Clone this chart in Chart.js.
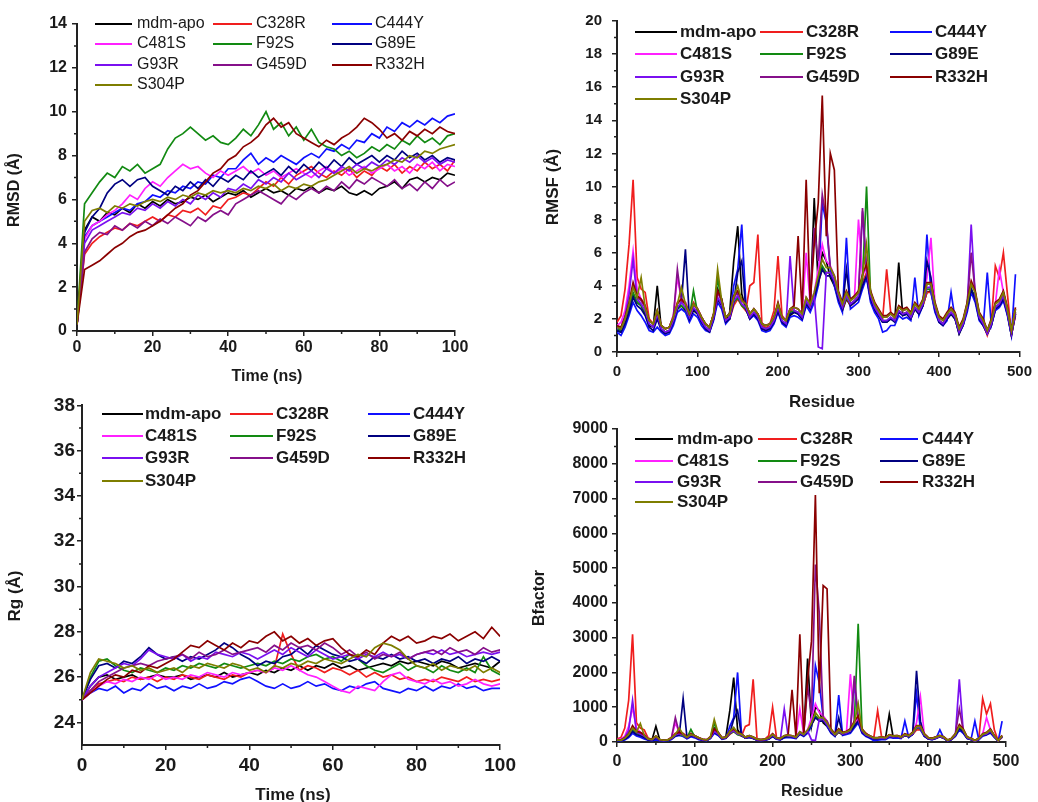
<!DOCTYPE html>
<html>
<head>
<meta charset="utf-8">
<title>MD analysis panels</title>
<script src="https://cdn.jsdelivr.net/npm/chart.js@4.4.1/dist/chart.umd.min.js"></script>
<style>
  body { margin: 0; background: #fff; }
  #page { position: relative; width: 1038px; height: 802px; overflow: hidden; background: #fff; }
  #page canvas { position: absolute; }
</style>
</head>
<body>
<div id="page">
  <canvas id="rmsdChart" width="520" height="392" style="left:0;top:0"></canvas>
  <canvas id="rmsfChart" width="518" height="412" style="left:520px;top:0"></canvas>
  <canvas id="rgChart" width="520" height="410" style="left:0;top:392px"></canvas>
  <canvas id="bfacChart" width="518" height="390" style="left:520px;top:412px"></canvas>
</div>
<script>
// systems, in legend order (Origin default colours)
const seriesNames = ['mdm-apo', 'C328R', 'C444Y', 'C481S', 'F92S', 'G89E', 'G93R', 'G459D', 'R332H', 'S304P'];
const seriesColors = ['#000000', '#f01e1e', '#1010ff', '#ff20ff', '#128a12', '#000080', '#7a10f0', '#86108a', '#8a0000', '#7e7e00'];

// x values
const timeNs = [0, 2, 4, 6, 8, 10, 12, 14, 16, 18, 20, 22, 24, 26, 28, 30, 32, 34, 36, 38, 40,
  42, 44, 46, 48, 50, 52, 54, 56, 58, 60, 62, 64, 66, 68, 70, 72, 74, 76, 78, 80,
  82, 84, 86, 88, 90, 92, 94, 96, 98, 100];
const residues = [0, 5, 10, 15, 20, 25, 30, 35, 40, 45, 50, 55, 60, 65, 70, 75, 80, 85, 90, 95,
  100, 105, 110, 115, 120, 125, 130, 135, 140, 145, 150, 155, 160, 165, 170, 175, 180, 185, 190, 195,
  200, 205, 210, 215, 220, 225, 230, 235, 240, 245, 250, 255, 260, 265, 270, 275, 280, 285, 290, 295,
  300, 305, 310, 315, 320, 325, 330, 335, 340, 345, 350, 355, 360, 365, 370, 375, 380, 385, 390, 395,
  400, 405, 410, 415, 420, 425, 430, 435, 440, 445, 450, 455, 460, 465, 470, 475, 480, 485, 490, 495];

// tick labels
const timeTicks = [0, 20, 40, 60, 80, 100];
const residueTicks = [0, 100, 200, 300, 400, 500];
const rmsdTicks = [0, 2, 4, 6, 8, 10, 12, 14];
const rmsfTicks = [0, 2, 4, 6, 8, 10, 12, 14, 16, 18, 20];
const rgTicks = [24, 26, 28, 30, 32, 34, 36, 38];
const bfacTicks = [0, 1000, 2000, 3000, 4000, 5000, 6000, 7000, 8000, 9000];

// RMSD (A) vs time
const rmsdMdmApo = [0.3, 4.6, 5.2, 5.0, 5.4, 5.3, 5.6, 5.4, 5.8, 5.6, 5.9,
  5.7, 6.0, 5.8, 5.9, 6.1, 6.0, 6.2, 5.9, 6.1, 6.3,
  6.2, 6.4, 6.1, 6.3, 6.5, 6.3, 6.4, 6.2, 6.5, 6.4,
  6.6, 6.3, 6.5, 6.4, 6.6, 6.3, 6.2, 6.4, 6.2, 6.5,
  6.6, 6.8, 6.5, 6.9, 7.0, 6.8, 7.0, 6.9, 7.2, 7.1];
const rmsdC328R = [0.3, 3.5, 4.0, 4.3, 4.5, 4.7, 4.6, 4.9, 4.8, 5.0, 5.2,
  5.0, 5.3, 5.2, 5.5, 5.4, 5.6, 5.3, 5.7, 5.6, 6.0,
  6.1, 6.3, 6.2, 6.5, 6.8, 6.6, 7.0, 6.7, 7.1, 7.3,
  7.5, 7.2, 7.0, 7.3, 7.1, 7.4, 7.0, 7.3, 7.1, 7.5,
  7.3, 7.6, 7.2, 7.5, 7.3, 7.7, 7.4, 7.6, 7.3, 7.8];
const rmsdC444Y = [0.3, 4.3, 4.8, 5.0, 5.2, 5.4, 5.6, 5.5, 5.8, 5.9, 6.2,
  6.1, 6.4, 6.3, 6.6, 6.5, 6.8, 6.7, 7.1, 7.0, 7.4,
  7.4, 7.8, 8.1, 7.6, 7.9, 7.7, 8.0, 7.8, 7.6, 7.9,
  8.1, 7.9, 8.3, 8.2, 8.5, 8.3, 8.7, 8.6, 9.0, 8.8,
  9.3, 9.1, 9.5, 9.3, 9.6, 9.4, 9.7, 9.5, 9.8, 9.9];
const rmsdC481S = [0.3, 4.2, 4.8, 5.0, 5.3, 5.5, 5.8, 6.2, 6.0, 6.5, 6.8,
  6.6, 7.0, 7.3, 7.6, 7.4, 7.5, 7.2, 7.0, 7.3, 7.1,
  7.3, 7.5, 7.2, 7.4, 7.1, 7.3, 7.0, 7.2, 7.4, 7.2,
  7.0, 7.3, 7.5, 7.2, 7.4, 7.1, 7.3, 7.5, 7.2, 7.4,
  7.6, 7.3, 7.5, 7.2, 7.6, 7.4, 7.7, 7.3, 7.6, 7.5];
const rmsdF92S = [0.3, 5.8, 6.3, 6.8, 7.2, 7.0, 7.5, 7.3, 7.6, 7.2, 7.4,
  7.6, 8.3, 8.8, 9.0, 9.3, 9.0, 8.7, 8.9, 8.6, 8.5,
  8.8, 9.2, 8.9, 9.4, 10.0, 9.2, 9.5, 8.9, 9.3, 8.7,
  9.2, 8.6, 8.4, 8.3, 8.0, 8.2, 7.9, 8.1, 8.4, 8.2,
  8.5, 8.3, 8.7, 8.5, 8.9, 8.6, 8.8, 8.5, 8.9, 9.0];
const rmsdG89E = [0.3, 4.5, 5.2, 5.6, 6.3, 6.7, 6.9, 6.6, 6.9, 7.0, 6.6,
  6.4, 6.2, 6.6, 6.4, 6.8, 6.5, 6.9, 6.6, 7.0, 6.8,
  7.1, 6.9, 7.3, 7.0, 7.2, 7.4, 7.1, 7.5, 7.2, 7.6,
  7.3, 7.7, 7.4, 7.8, 7.5, 7.9, 7.6, 7.8, 8.0, 7.7,
  8.0, 7.8, 8.2, 7.9, 8.1, 7.8, 8.0, 7.7, 7.9, 7.8];
const rmsdG93R = [0.3, 4.0, 4.6, 4.8, 5.0, 5.2, 5.4, 5.3, 5.6, 5.5, 5.8,
  5.6, 5.9, 5.7, 6.0, 5.8, 6.2, 6.0, 6.3, 6.1, 6.5,
  6.4, 6.7, 6.5, 6.9, 6.7, 7.0, 6.8, 7.2, 6.9, 7.1,
  7.3, 7.0, 7.4, 7.2, 7.5, 7.3, 7.6, 7.4, 7.7, 7.5,
  7.8, 7.6, 7.9, 7.7, 8.0, 7.7, 7.9, 7.6, 7.8, 7.7];
const rmsdG459D = [0.3, 3.6, 4.2, 4.5, 4.4, 4.8, 4.6, 4.9, 4.7, 5.0, 4.8,
  5.1, 4.9, 5.2, 5.0, 4.8, 5.2, 5.0, 5.3, 5.5, 5.3,
  5.8, 6.0, 6.2, 6.4, 6.2, 6.0, 5.8, 6.2, 6.0, 6.3,
  6.5, 6.3, 6.6, 6.4, 6.8, 6.5, 6.9, 6.7, 7.0, 6.8,
  6.6, 6.9, 6.5, 6.7, 6.4, 6.8, 6.5, 6.9, 6.6, 6.8];
const rmsdR332H = [0.3, 2.8, 3.0, 3.2, 3.5, 3.8, 4.0, 4.3, 4.5, 4.6, 4.8,
  5.0, 5.3, 5.6, 5.8, 6.2, 6.4, 6.8, 7.2, 7.4, 7.8,
  8.0, 8.4, 8.6, 8.9, 9.4, 9.7, 9.3, 9.5, 9.0, 8.8,
  8.6, 8.4, 8.7, 8.5, 8.8, 9.0, 9.3, 9.7, 9.5, 9.2,
  8.8, 9.0, 8.7, 9.1, 8.9, 9.2, 9.0, 9.3, 9.1, 9.0];
const rmsdS304P = [0.3, 5.0, 5.5, 5.6, 5.4, 5.7, 5.6, 5.8, 5.7, 5.9, 6.0,
  5.9, 6.1, 6.0, 6.2, 6.1, 6.3, 6.2, 6.4, 6.3, 6.4,
  6.3, 6.5, 6.4, 6.6, 6.5, 6.7, 6.4, 6.6, 6.5, 6.7,
  6.6, 6.8, 6.9, 7.1, 7.3, 7.5, 7.2, 7.4, 7.3, 7.5,
  7.6, 7.8, 7.7, 8.0, 7.9, 8.2, 8.1, 8.3, 8.4, 8.5];

// RMSF (A) per residue
const rmsfMdmApo = [1.3, 1.2, 1.8, 2.5, 3.5, 3.0, 2.8, 2.3, 1.6, 1.5, 4.0, 1.4, 1.2, 1.3, 1.9, 2.6, 2.8, 2.5, 2.0, 2.5,
  2.3, 1.8, 1.5, 1.3, 2.0, 3.8, 3.2, 1.9, 2.4, 5.5, 7.6, 3.5, 2.6, 2.0, 2.3, 2.0, 1.5, 1.3, 1.5, 1.8,
  2.5, 1.8, 1.6, 2.2, 2.4, 2.3, 2.0, 3.0, 2.6, 9.3, 4.0, 6.0, 5.5, 4.5, 4.0, 3.2, 2.5, 3.2, 2.8, 3.0,
  3.3, 4.0, 4.6, 3.2, 2.5, 2.2, 1.8, 1.8, 2.0, 1.9, 5.4, 2.2, 2.3, 2.0, 2.6, 2.3, 2.8, 3.6, 3.7, 2.5,
  1.9, 1.7, 2.0, 2.3, 2.0, 1.1, 1.7, 2.6, 3.8, 3.2, 2.0, 1.6, 1.1, 1.6, 2.6, 2.8, 3.3, 2.3, 1.0, 2.3];
const rmsfC328R = [1.8, 2.2, 3.8, 6.5, 10.4, 4.5, 3.8, 3.6, 2.0, 1.7, 2.2, 1.6, 1.4, 1.5, 2.2, 3.0, 3.2, 3.0, 2.4, 3.0,
  2.6, 2.1, 1.7, 1.5, 2.3, 3.2, 2.8, 2.0, 2.0, 2.8, 3.2, 2.8, 2.5, 4.0, 4.2, 7.1, 1.7, 1.4, 1.7, 2.5,
  5.8, 2.2, 1.9, 2.4, 2.7, 2.6, 2.3, 3.0, 2.7, 3.3, 4.2, 5.0, 4.8, 4.8, 4.3, 3.4, 2.6, 3.3, 2.8, 3.0,
  3.3, 4.2, 4.8, 3.5, 3.0, 2.5, 2.0, 5.0, 2.4, 2.0, 2.4, 2.3, 2.4, 2.1, 2.6, 2.4, 2.8, 3.6, 3.6, 2.6,
  1.9, 1.7, 2.1, 2.4, 2.1, 1.2, 1.7, 2.6, 3.6, 3.2, 2.1, 1.7, 1.0, 1.7, 5.2, 4.5, 6.0, 3.5, 1.1, 2.2];
const rmsfC444Y = [1.2, 1.0, 1.5, 2.2, 3.0, 2.5, 2.2, 1.8, 1.3, 1.2, 1.5, 1.2, 1.0, 1.1, 1.6, 2.4, 2.6, 2.4, 1.8, 2.3,
  2.1, 1.6, 1.3, 1.2, 1.9, 3.0, 2.6, 1.7, 2.0, 4.0, 5.0, 7.7, 3.0, 2.0, 2.2, 1.9, 1.3, 1.2, 1.3, 1.7,
  2.4, 1.7, 1.5, 2.1, 2.2, 2.1, 1.9, 2.8, 2.4, 3.0, 4.0, 9.0, 7.8, 5.0, 4.0, 3.0, 2.4, 6.9, 2.6, 2.8,
  3.0, 3.8, 4.5, 3.0, 2.4, 2.0, 1.2, 1.3, 1.6, 1.6, 2.2, 2.0, 2.1, 1.9, 4.5, 2.2, 2.8, 7.1, 3.6, 2.4,
  1.8, 1.6, 1.9, 3.6, 2.0, 1.2, 1.6, 2.4, 3.6, 3.0, 1.9, 1.6, 4.8, 1.6, 2.5, 2.7, 3.1, 2.2, 1.0, 4.7];
const rmsfC481S = [1.6, 1.8, 2.5, 4.0, 6.1, 3.8, 3.2, 2.8, 1.9, 1.7, 2.2, 1.6, 1.4, 1.5, 2.2, 4.5, 3.2, 3.0, 2.3, 2.9,
  2.6, 2.1, 1.7, 1.5, 2.3, 3.6, 3.1, 2.1, 2.3, 3.3, 3.6, 3.1, 2.9, 2.3, 2.6, 2.3, 1.7, 1.6, 1.7, 2.1,
  2.9, 2.1, 1.9, 2.6, 2.7, 2.6, 2.3, 6.0, 2.9, 3.6, 5.0, 6.5, 5.5, 5.2, 4.6, 3.6, 2.9, 3.6, 3.1, 3.3,
  8.0, 4.6, 5.1, 3.6, 2.9, 2.5, 2.1, 2.1, 2.3, 2.1, 2.7, 2.5, 2.6, 2.3, 2.9, 2.6, 3.1, 4.5, 6.9, 2.9,
  2.1, 1.9, 2.3, 2.6, 2.3, 1.4, 1.9, 2.9, 4.1, 3.6, 2.3, 1.9, 1.3, 1.9, 2.9, 5.0, 3.6, 2.6, 1.3, 2.6];
const rmsfF92S = [1.4, 1.3, 1.9, 2.6, 3.6, 3.0, 2.8, 2.4, 1.7, 1.5, 2.3, 1.4, 1.2, 1.3, 1.9, 2.6, 2.8, 2.6, 2.1, 3.7,
  2.4, 1.9, 1.5, 1.3, 2.1, 4.5, 2.9, 1.9, 2.1, 3.0, 3.3, 2.8, 2.6, 2.1, 2.4, 2.1, 1.5, 1.4, 1.5, 1.9,
  2.6, 1.9, 1.7, 2.4, 2.5, 2.4, 2.1, 3.0, 2.7, 3.4, 4.3, 5.2, 4.8, 4.8, 4.3, 3.3, 2.7, 3.3, 2.9, 3.1,
  3.4, 4.4, 10.0, 3.4, 2.7, 2.3, 1.9, 1.9, 2.1, 1.9, 2.5, 2.3, 2.4, 2.1, 2.7, 2.4, 2.9, 3.8, 3.8, 2.7,
  1.9, 1.7, 2.1, 2.4, 2.1, 1.2, 1.7, 2.7, 3.8, 3.3, 2.1, 1.7, 1.1, 1.7, 2.7, 2.9, 3.3, 2.4, 1.1, 2.4];
const rmsfG89E = [1.3, 1.2, 1.7, 2.4, 3.3, 2.8, 2.6, 2.2, 1.5, 1.3, 2.0, 1.3, 1.1, 1.2, 1.8, 2.6, 3.0, 6.2, 2.0, 2.6,
  2.3, 1.8, 1.4, 1.2, 2.0, 3.2, 2.8, 1.8, 2.0, 3.0, 4.8, 5.5, 2.6, 2.0, 2.3, 2.0, 1.4, 1.3, 1.4, 1.8,
  2.5, 1.8, 1.6, 2.3, 2.4, 2.3, 2.0, 2.9, 2.6, 3.3, 4.2, 5.0, 4.6, 4.6, 4.2, 3.2, 2.6, 5.0, 2.8, 3.0,
  3.2, 4.0, 4.6, 3.2, 2.6, 2.2, 1.8, 1.8, 2.0, 1.8, 2.4, 2.2, 2.3, 2.0, 2.6, 2.3, 2.8, 5.5, 4.5, 2.6,
  1.8, 1.6, 2.0, 2.3, 2.0, 1.1, 1.6, 2.6, 3.8, 3.2, 2.0, 1.6, 1.1, 1.6, 2.6, 2.8, 3.2, 2.3, 1.0, 2.3];
const rmsfG93R = [1.4, 1.5, 2.2, 3.5, 5.6, 3.2, 2.9, 2.5, 1.7, 1.5, 2.3, 1.4, 1.2, 1.3, 1.9, 2.7, 3.0, 2.7, 2.1, 2.7,
  2.4, 1.9, 1.5, 1.3, 2.1, 3.3, 2.9, 1.9, 2.1, 3.1, 3.4, 2.9, 2.7, 2.1, 2.4, 2.1, 1.5, 1.4, 1.5, 1.9,
  2.7, 1.9, 1.7, 5.8, 2.5, 2.4, 2.1, 3.1, 2.7, 3.4, 0.3, 0.2, 4.8, 4.8, 4.3, 3.4, 2.7, 3.4, 2.9, 3.1,
  3.4, 8.5, 4.9, 3.4, 2.7, 2.3, 1.9, 1.9, 2.1, 1.9, 2.5, 2.3, 2.4, 2.1, 2.7, 2.4, 2.9, 3.9, 3.9, 2.7,
  1.9, 1.7, 2.1, 2.4, 2.1, 1.2, 1.7, 2.7, 7.7, 3.4, 2.1, 1.7, 1.1, 1.7, 2.7, 2.9, 3.4, 2.4, 1.1, 2.4];
const rmsfG459D = [1.5, 1.4, 2.0, 2.9, 4.0, 3.3, 3.1, 2.7, 1.9, 1.7, 2.5, 1.6, 1.4, 1.5, 2.1, 5.0, 3.1, 2.9, 2.3, 2.9,
  2.6, 2.1, 1.7, 1.5, 2.3, 3.6, 3.1, 2.1, 2.3, 3.3, 3.6, 3.1, 2.9, 2.3, 2.6, 2.3, 1.7, 1.6, 1.7, 2.1,
  2.9, 2.1, 1.9, 2.6, 2.7, 2.6, 2.3, 3.3, 2.9, 7.5, 5.5, 9.5, 8.0, 5.1, 4.6, 3.6, 2.9, 3.6, 3.1, 3.3,
  3.6, 8.7, 5.1, 3.6, 2.9, 2.5, 2.1, 2.1, 2.3, 2.1, 2.7, 2.5, 2.6, 2.3, 2.9, 2.6, 3.1, 4.1, 4.1, 2.9,
  2.1, 1.9, 2.3, 2.6, 2.3, 1.4, 1.9, 2.9, 6.0, 3.6, 2.3, 1.9, 1.3, 1.9, 2.9, 3.1, 3.6, 2.6, 1.3, 2.6];
const rmsfR332H = [1.6, 1.5, 2.1, 3.0, 4.2, 3.4, 3.2, 2.8, 1.9, 1.7, 2.5, 1.6, 1.4, 1.5, 2.1, 2.9, 3.2, 2.9, 2.3, 2.9,
  2.6, 2.1, 1.7, 1.5, 2.3, 3.7, 3.2, 2.1, 2.3, 3.4, 3.7, 3.2, 2.9, 2.3, 2.6, 2.3, 1.7, 1.6, 1.7, 2.1,
  3.0, 2.1, 1.9, 2.6, 2.8, 7.0, 2.4, 10.4, 3.0, 6.5, 9.0, 15.5, 7.0, 12.0, 11.0, 3.7, 3.0, 3.7, 3.2, 3.4,
  3.7, 4.7, 5.3, 3.7, 3.0, 2.6, 2.2, 2.2, 2.4, 2.2, 2.8, 2.6, 2.7, 2.4, 3.0, 2.7, 3.2, 4.2, 4.2, 3.0,
  2.2, 2.0, 2.4, 2.7, 2.4, 1.5, 2.0, 3.0, 4.3, 3.7, 2.4, 2.0, 1.3, 2.0, 3.0, 3.2, 3.7, 2.7, 1.3, 2.7];
const rmsfS304P = [1.5, 1.4, 2.0, 2.9, 3.9, 3.3, 4.5, 2.7, 1.9, 1.7, 2.5, 1.6, 1.4, 1.5, 2.1, 2.9, 3.9, 2.9, 2.3, 2.9,
  2.6, 2.1, 1.7, 1.5, 2.3, 5.0, 3.1, 2.1, 2.3, 3.3, 4.0, 3.1, 2.9, 2.3, 2.6, 2.3, 1.7, 1.6, 1.7, 2.1,
  2.9, 2.1, 1.9, 2.6, 2.7, 2.6, 2.3, 3.3, 2.9, 3.6, 4.6, 5.6, 5.1, 5.1, 4.6, 3.6, 2.9, 3.6, 3.1, 3.3,
  3.6, 4.6, 6.5, 3.6, 2.9, 2.5, 2.1, 2.1, 2.3, 2.1, 2.7, 2.5, 2.6, 2.3, 2.9, 2.6, 3.1, 4.1, 4.1, 2.9,
  2.1, 1.9, 2.3, 2.6, 2.3, 1.4, 1.9, 2.9, 4.1, 3.6, 2.3, 1.9, 1.3, 1.9, 2.9, 3.1, 3.6, 2.6, 1.3, 2.6];

// Rg (A) vs time
const rgMdmApo = [25.0, 25.6, 26.0, 26.1, 25.9, 26.0, 26.1, 25.9, 26.0, 26.1, 26.0,
  26.0, 26.1, 25.9, 26.0, 26.1, 26.0, 26.2, 26.0, 26.1, 26.2,
  26.1, 26.3, 26.2, 26.4, 26.3, 26.5, 26.3, 26.5, 26.4, 26.6,
  26.4, 26.5, 26.3, 26.4, 26.5, 26.6, 26.5, 26.7, 26.6, 26.7,
  26.6, 26.5, 26.7, 26.6, 26.4, 26.5, 26.6, 26.5, 26.4, 26.7];
const rgC328R = [25.0, 25.4, 25.7, 25.8, 25.9, 25.8, 26.0, 25.9, 26.0, 25.8, 26.0,
  25.9, 26.1, 26.0, 25.9, 26.1, 26.0, 25.9, 26.1, 26.0, 26.2,
  26.3, 26.2, 26.4, 27.9, 27.0, 26.3, 26.5, 26.4, 26.2, 26.4,
  26.3, 26.1, 26.3, 26.0, 26.2, 26.0, 26.1, 25.9, 26.0, 25.8,
  25.9, 25.8, 26.0, 25.9, 25.8, 26.0, 25.8, 25.9, 25.8, 25.9];
const rgC444Y = [25.0, 25.3, 25.5, 25.4, 25.6, 25.3, 25.5, 25.4, 25.7, 25.5, 25.6,
  25.4, 25.6, 25.5, 25.7, 25.5, 25.6, 25.8, 25.7, 25.9, 26.0,
  25.8, 25.6, 25.5, 25.7, 25.5, 25.6, 25.8, 25.6, 25.7, 25.5,
  25.4, 25.6, 25.5, 25.7, 25.8, 25.5, 25.4, 25.3, 25.5, 25.4,
  25.6, 25.4, 25.6, 25.5, 25.7, 25.5, 25.6, 25.4, 25.5, 25.5];
const rgC481S = [25.0, 25.3, 25.6, 25.8, 25.7, 25.9, 25.8, 26.0, 25.9, 26.1, 25.9,
  26.0, 25.9, 26.1, 26.0, 26.2, 26.1, 26.0, 26.2, 26.1, 26.2,
  26.3, 26.2, 26.4, 26.3, 26.5, 26.3, 26.1, 26.0, 25.8, 25.6,
  25.4, 25.3, 25.6, 25.5, 25.4, 25.8, 26.1, 26.2, 25.9, 25.8,
  25.7, 25.9, 25.7, 25.8, 25.6, 25.7, 25.9, 25.7, 25.6, 25.7];
const rgF92S = [25.0, 26.0, 26.7, 26.8, 26.5, 26.3, 26.2, 26.4, 26.3, 26.2, 26.4,
  26.3, 26.5, 26.4, 26.6, 26.5, 26.4, 26.6, 26.5, 26.4, 26.5,
  26.6, 26.5, 26.7, 26.6, 26.8, 26.7, 26.9, 27.0, 26.8, 26.9,
  26.7, 27.0, 26.8, 26.5, 26.3, 26.2, 26.4, 26.6, 26.3, 26.5,
  26.4, 26.2, 26.5, 26.3, 26.2, 26.4, 26.2, 26.9, 26.3, 26.1];
const rgG89E = [25.0, 25.9, 26.5, 26.6, 26.4, 26.7, 26.6, 26.9, 27.3, 27.0, 26.8,
  26.9, 26.7, 26.9, 26.8, 27.0, 27.2, 27.5, 27.3, 27.0, 26.8,
  26.5, 26.7, 26.6, 26.9, 27.0, 27.3, 27.0, 27.4, 27.2, 27.0,
  26.9, 26.7, 26.8, 26.6, 26.9, 26.8, 27.0, 26.8, 26.9, 26.7,
  26.8, 26.6, 26.8, 26.7, 26.9, 26.6, 26.8, 26.7, 26.9, 26.7];
const rgG93R = [25.0, 25.6, 26.0, 26.2, 26.4, 26.6, 26.5, 26.8, 27.2, 27.0, 26.9,
  26.8, 27.0, 26.7, 26.9, 26.8, 27.1, 27.0, 26.9, 27.1, 27.0,
  26.8, 27.0, 27.2, 27.0, 27.3, 27.1, 26.9, 27.2, 27.0, 26.8,
  26.9, 27.0, 26.8, 27.0, 26.9, 27.1, 26.9, 27.0, 26.8, 27.0,
  27.1, 27.0, 27.2, 27.0, 27.1, 26.9, 27.0, 27.1, 27.0, 27.1];
const rgG459D = [25.0, 25.4, 25.8, 26.0, 26.2, 26.4, 26.5, 26.6, 26.5, 26.7, 26.8,
  26.9, 27.0, 26.8, 27.1, 26.9, 27.0, 27.2, 27.0, 27.1, 27.2,
  27.3, 27.1, 27.4, 27.2, 27.5, 27.3, 27.4, 27.2, 27.5, 27.3,
  27.0, 27.2, 26.9, 27.1, 26.8, 27.0, 26.9, 27.1, 26.8, 27.0,
  27.1, 27.2, 27.0, 27.3, 27.1, 27.2, 27.0, 27.3, 27.1, 27.2];
const rgR332H = [25.0, 25.3, 25.6, 25.9, 26.1, 26.0, 26.3, 26.2, 26.5, 26.4, 26.6,
  26.8, 27.1, 27.4, 27.3, 27.6, 27.4, 27.2, 27.5, 27.3, 27.6,
  27.5, 27.8, 28.0, 27.6, 27.8, 27.5, 27.7, 27.4, 27.6, 27.7,
  27.3, 27.0, 26.9, 27.2, 27.0, 27.5, 27.8, 27.6, 27.8, 27.5,
  27.6, 27.8, 27.7, 27.9, 27.6, 27.8, 28.0, 27.7, 28.2, 27.8];
const rgS304P = [25.0, 26.2, 26.8, 26.7, 26.6, 26.4, 26.5, 26.3, 26.4, 26.2, 26.3,
  26.4, 26.2, 26.5, 26.4, 26.6, 26.5, 26.4, 26.6, 26.5, 26.3,
  26.4, 26.2, 26.5, 26.4, 26.6, 26.5, 26.7, 26.6, 26.8, 26.7,
  26.6, 26.8, 27.0, 26.9, 27.3, 27.5, 27.4, 27.2, 26.8, 26.5,
  26.4, 26.6, 26.3, 26.5, 26.4, 26.3, 26.5, 26.2, 26.4, 26.2];

// B-factor per residue
const bfacMdmApo = [60, 50, 90, 180, 350, 260, 220, 150, 70, 60, 450, 60, 40, 50, 100, 190, 220, 180, 110, 180,
  150, 90, 60, 45, 110, 400, 280, 100, 160, 900, 1850, 350, 190, 110, 140, 100, 60, 50, 60, 90,
  170, 90, 70, 130, 160, 150, 110, 250, 190, 2400, 450, 1000, 900, 550, 450, 280, 170, 280, 210, 250,
  300, 450, 600, 280, 180, 130, 90, 90, 110, 100, 800, 130, 150, 110, 190, 150, 220, 380, 400, 170,
  100, 80, 110, 150, 110, 40, 80, 190, 400, 280, 110, 70, 40, 70, 190, 220, 300, 150, 30, 150];
const bfacC328R = [90, 130, 400, 1200, 3100, 550, 400, 350, 110, 80, 130, 70, 50, 60, 130, 250, 280, 250, 160, 250,
  180, 120, 80, 60, 150, 300, 220, 110, 110, 220, 300, 220, 170, 450, 500, 1800, 80, 50, 80, 180,
  1000, 130, 100, 160, 200, 180, 140, 250, 200, 300, 500, 700, 650, 650, 500, 320, 190, 300, 220, 250,
  300, 500, 650, 340, 250, 170, 110, 900, 160, 110, 160, 150, 160, 120, 190, 160, 220, 350, 350, 190,
  100, 80, 120, 160, 120, 40, 80, 190, 360, 280, 120, 80, 30, 80, 1250, 800, 1100, 350, 30, 130];
const bfacC444Y = [40, 30, 60, 130, 250, 170, 140, 90, 50, 40, 60, 40, 30, 30, 70, 160, 190, 160, 90, 150,
  120, 70, 50, 40, 100, 250, 190, 80, 110, 450, 700, 2000, 250, 110, 130, 100, 50, 40, 50, 80,
  160, 80, 60, 120, 130, 120, 100, 220, 160, 250, 450, 2200, 1700, 700, 450, 250, 160, 1350, 190, 220,
  250, 400, 550, 250, 160, 110, 40, 50, 70, 70, 130, 110, 120, 100, 600, 130, 220, 1400, 350, 160,
  90, 70, 100, 350, 110, 40, 70, 160, 350, 250, 100, 70, 600, 70, 170, 200, 260, 130, 30, 600];
const bfacC481S = [70, 90, 170, 450, 1000, 400, 280, 220, 100, 80, 130, 70, 50, 60, 130, 550, 280, 240, 140, 230,
  180, 120, 80, 60, 140, 350, 260, 120, 140, 300, 350, 260, 230, 140, 180, 140, 80, 70, 80, 120,
  230, 120, 100, 180, 200, 180, 140, 950, 230, 350, 700, 1100, 850, 750, 600, 350, 230, 350, 260, 290,
  1950, 550, 700, 350, 230, 170, 120, 120, 140, 120, 200, 170, 180, 140, 230, 180, 260, 550, 1300, 230,
  120, 100, 140, 180, 140, 50, 100, 230, 450, 350, 140, 100, 40, 100, 230, 700, 350, 180, 40, 180];
const bfacF92S = [50, 50, 100, 180, 350, 240, 210, 150, 80, 60, 140, 50, 40, 40, 100, 180, 210, 180, 120, 360,
  150, 100, 60, 40, 120, 550, 220, 100, 120, 240, 300, 210, 180, 120, 150, 120, 60, 50, 60, 100,
  180, 100, 80, 150, 170, 150, 120, 240, 190, 300, 500, 750, 650, 650, 500, 300, 190, 300, 230, 260,
  300, 500, 3400, 320, 200, 140, 100, 100, 120, 100, 170, 140, 150, 120, 200, 150, 230, 400, 400, 200,
  100, 80, 120, 150, 120, 40, 80, 200, 400, 300, 120, 80, 30, 80, 200, 230, 300, 160, 30, 160];
const bfacG89E = [50, 40, 80, 160, 300, 210, 180, 130, 60, 50, 110, 50, 30, 40, 90, 180, 200, 1250, 110, 180,
  150, 90, 50, 40, 110, 280, 210, 90, 110, 250, 650, 900, 190, 110, 140, 110, 50, 50, 50, 90,
  170, 90, 70, 140, 160, 150, 110, 230, 180, 300, 500, 700, 600, 600, 500, 280, 180, 700, 210, 250,
  290, 450, 600, 280, 180, 130, 90, 90, 110, 90, 160, 130, 150, 110, 190, 150, 220, 2050, 600, 180,
  90, 70, 110, 150, 110, 30, 70, 190, 400, 280, 110, 70, 30, 70, 190, 220, 280, 150, 30, 150];
const bfacG93R = [60, 60, 130, 330, 1200, 280, 230, 170, 80, 60, 140, 50, 40, 50, 100, 200, 240, 200, 120, 200,
  160, 100, 60, 50, 120, 300, 230, 100, 120, 260, 320, 230, 200, 120, 160, 120, 60, 50, 60, 100,
  200, 100, 80, 950, 170, 160, 120, 260, 200, 320, 60, 40, 650, 650, 500, 320, 200, 320, 230, 260,
  320, 1700, 650, 320, 200, 150, 100, 100, 120, 100, 170, 150, 160, 120, 200, 160, 230, 420, 420, 200,
  100, 80, 120, 160, 120, 40, 80, 200, 1800, 320, 120, 80, 30, 80, 200, 230, 320, 160, 30, 160];
const bfacG459D = [60, 50, 110, 220, 420, 290, 260, 190, 90, 80, 170, 70, 50, 60, 120, 700, 260, 220, 140, 230,
  180, 120, 80, 60, 140, 360, 260, 120, 140, 300, 360, 260, 230, 140, 180, 140, 80, 70, 80, 120,
  230, 120, 100, 180, 200, 180, 140, 300, 230, 1600, 800, 5100, 3700, 700, 600, 350, 230, 350, 260, 290,
  350, 1900, 700, 350, 230, 170, 120, 120, 140, 120, 200, 170, 180, 140, 230, 180, 260, 450, 450, 230,
  120, 100, 140, 180, 140, 50, 100, 230, 950, 350, 140, 100, 40, 100, 230, 260, 350, 180, 40, 180];
const bfacR332H = [70, 60, 120, 240, 470, 310, 280, 210, 100, 80, 170, 70, 50, 60, 120, 230, 280, 230, 140, 230,
  180, 120, 80, 60, 140, 380, 280, 120, 140, 310, 380, 280, 230, 140, 180, 140, 80, 70, 80, 120,
  240, 120, 100, 180, 210, 1500, 150, 3100, 240, 1800, 2900, 7100, 1400, 4500, 4400, 380, 240, 380, 280, 310,
  380, 600, 750, 380, 240, 180, 130, 130, 150, 130, 210, 180, 190, 150, 240, 190, 280, 470, 470, 240,
  130, 110, 150, 190, 150, 60, 110, 240, 500, 380, 150, 110, 50, 110, 240, 280, 380, 190, 50, 190];
const bfacS304P = [60, 50, 110, 220, 400, 290, 530, 190, 90, 70, 170, 70, 50, 60, 120, 220, 400, 220, 140, 220,
  180, 120, 80, 60, 140, 650, 260, 120, 140, 300, 420, 260, 220, 140, 180, 140, 80, 70, 80, 120,
  220, 120, 100, 180, 200, 180, 140, 290, 220, 350, 550, 850, 700, 700, 550, 350, 220, 350, 260, 290,
  350, 550, 1100, 350, 220, 170, 120, 120, 140, 120, 200, 170, 180, 140, 220, 180, 260, 450, 450, 220,
  120, 100, 140, 180, 140, 50, 100, 230, 450, 350, 140, 100, 40, 100, 220, 260, 350, 180, 40, 180];

const FONT = '"Liberation Sans", Arial, sans-serif';
Chart.defaults.font.family = FONT;

// minor ticks, axis titles and the 3-column legend, drawn onto each panel
const decor = {
  id: 'decor',
  afterDraw(chart, args, o) {
    const { ctx, chartArea: a, scales: { x, y } } = chart;
    const mids = s => {
      const v = s.ticks.map(t => t.value);
      return v.slice(1).map((w, i) => (w + v[i]) / 2);
    };
    ctx.save();
    ctx.strokeStyle = '#222';
    ctx.lineWidth = 1.5;
    ctx.beginPath();
    mids(x).forEach(v => {
      const px = x.getPixelForValue(v);
      ctx.moveTo(px, a.bottom);
      ctx.lineTo(px, a.bottom + 3);
    });
    mids(y).forEach(v => {
      const py = y.getPixelForValue(v);
      ctx.moveTo(a.left - 3, py);
      ctx.lineTo(a.left, py);
    });
    ctx.stroke();

    ctx.fillStyle = '#1a1a1a';
    ctx.font = o.titleFont;
    ctx.textAlign = 'center';
    ctx.textBaseline = 'middle';
    ctx.fillText(o.xTitle[0], o.xTitle[1], o.xTitle[2]);
    ctx.save();
    ctx.translate(o.yTitle[1], o.yTitle[2]);
    ctx.rotate(-Math.PI / 2);
    ctx.fillText(o.yTitle[0], 0, 0);
    ctx.restore();

    ctx.font = o.legendFont;
    ctx.textAlign = 'left';
    chart.data.datasets.forEach((ds, i) => {
      const yy = o.legendRows[Math.floor(i / 3)];
      const [x1, x2, tx] = o.legendCols[i % 3];
      ctx.strokeStyle = ds.borderColor;
      ctx.lineWidth = 1.8;
      ctx.beginPath();
      ctx.moveTo(x1, yy);
      ctx.lineTo(x2, yy);
      ctx.stroke();
      ctx.fillText(ds.label, tx, yy);
    });
    ctx.restore();
  }
};

function buildPanel(canvasId, p) {
  const datasets = p.series.map((values, i) => ({
    label: seriesNames[i],
    data: values,
    borderColor: seriesColors[i],
    borderWidth: 1.7,
    pointRadius: 0,
    tension: 0,
    order: p.series.length - i
  }));
  const tickFont = { size: p.tickSize, weight: 'bold' };
  const grid = { drawOnChartArea: false, drawTicks: true, tickLength: 5, color: '#222', lineWidth: 1.5 };
  const border = { display: true, color: '#222', width: 2 };
  return new Chart(document.getElementById(canvasId), {
    type: 'line',
    data: { labels: p.labels, datasets },
    options: {
      responsive: false,
      animation: false,
      events: [],
      layout: { padding: { left: 0, top: p.top, right: p.right, bottom: 0 } },
      plugins: { legend: { display: false }, tooltip: { enabled: false }, decor: p.decor },
      scales: {
        x: {
          type: 'linear', min: p.xTicks[0], max: p.xTicks[p.xTicks.length - 1],
          afterBuildTicks: s => { s.ticks = p.xTicks.map(v => ({ value: v })); },
          afterFit: s => { s.height = p.xh; },
          ticks: { font: tickFont, color: '#1a1a1a', padding: p.xPad, maxRotation: 0, autoSkip: false, callback: v => String(v) },
          grid, border
        },
        y: {
          type: 'linear', min: p.yMin, max: p.yTicks[p.yTicks.length - 1],
          afterBuildTicks: s => { s.ticks = p.yTicks.map(v => ({ value: v })); },
          afterFit: s => { s.width = p.yw; },
          ticks: { font: tickFont, color: '#1a1a1a', padding: p.yPad, autoSkip: false, callback: v => String(v) },
          grid, border
        }
      }
    },
    plugins: [decor]
  });
}

buildPanel('rmsdChart', {
  labels: timeNs,
  series: [rmsdMdmApo, rmsdC328R, rmsdC444Y, rmsdC481S, rmsdF92S, rmsdG89E, rmsdG93R, rmsdG459D, rmsdR332H, rmsdS304P],
  xTicks: timeTicks, yTicks: rmsdTicks, yMin: 0,
  top: 24, right: 65, xh: 61, yw: 77, tickSize: 16, xPad: 2, yPad: 5,
  decor: {
    titleFont: 'bold 16px ' + FONT, legendFont: '16px ' + FONT,
    xTitle: ['Time (ns)', 267, 377], yTitle: ['RMSD (Å)', 15, 190],
    legendRows: [24, 44, 65, 85],
    legendCols: [[95, 132, 137], [213, 252, 256], [332, 372, 375]]
  }
});

buildPanel('rmsfChart', {
  labels: residues,
  series: [rmsfMdmApo, rmsfC328R, rmsfC444Y, rmsfC481S, rmsfF92S, rmsfG89E, rmsfG93R, rmsfG459D, rmsfR332H, rmsfS304P],
  xTicks: residueTicks, yTicks: rmsfTicks, yMin: 0,
  top: 21, right: 15, xh: 60, yw: 97, tickSize: 15, xPad: 6, yPad: 10,
  decor: {
    titleFont: 'bold 17px ' + FONT, legendFont: 'bold 17px ' + FONT,
    xTitle: ['Residue', 302, 402], yTitle: ['RMSF (Å)', 33, 187],
    legendRows: [32, 54, 77, 99],
    legendCols: [[115, 157, 160], [240, 283, 286], [370, 412, 415]]
  }
});

buildPanel('rgChart', {
  labels: timeNs,
  series: [rgMdmApo, rgC328R, rgC444Y, rgC481S, rgF92S, rgG89E, rgG93R, rgG459D, rgR332H, rgS304P],
  xTicks: timeTicks, yTicks: rgTicks, yMin: 23,
  top: 11, right: 14, xh: 57, yw: 82, tickSize: 19, xPad: 4, yPad: 2,
  decor: {
    titleFont: 'bold 17px ' + FONT, legendFont: 'bold 17px ' + FONT,
    xTitle: ['Time (ns)', 293, 403], yTitle: ['Rg (Å)', 15, 204],
    legendRows: [22, 44, 66, 89],
    legendCols: [[102, 143, 145], [230, 273, 276], [368, 410, 413]]
  }
});

buildPanel('bfacChart', {
  labels: residues,
  series: [bfacMdmApo, bfacC328R, bfacC444Y, bfacC481S, bfacF92S, bfacG89E, bfacG93R, bfacG459D, bfacR332H, bfacS304P],
  xTicks: residueTicks, yTicks: bfacTicks, yMin: 0,
  top: 17, right: 32, xh: 60, yw: 97, tickSize: 16, xPad: 5, yPad: 4,
  decor: {
    titleFont: 'bold 16px ' + FONT, legendFont: 'bold 17px ' + FONT,
    xTitle: ['Residue', 292, 380], yTitle: ['Bfactor', 20, 186],
    legendRows: [27, 49, 70, 90],
    legendCols: [[115, 153, 157], [238, 277, 280], [360, 398, 402]]
  }
});
</script>
</body>
</html>
